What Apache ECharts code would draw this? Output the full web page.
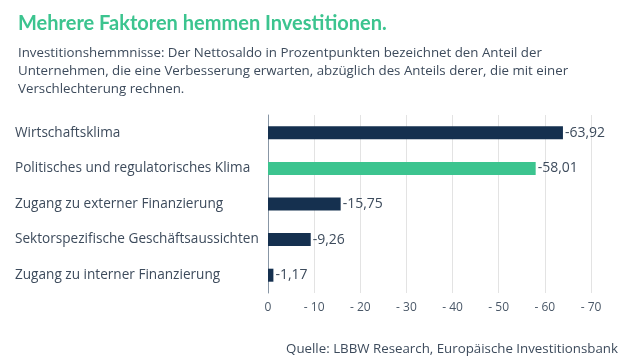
<!DOCTYPE html>
<html><head><meta charset="utf-8">
<script src="https://cdn.jsdelivr.net/npm/echarts@6/dist/echarts.min.js"></script>
<style>html,body{margin:0;padding:0;background:#fff}#c{width:640px;height:360px}</style>
</head><body><div id="c"></div>
<script>
const categories = ["Wirtschaftsklima","Politisches und regulatorisches Klima","Zugang zu externer Finanzierung","Sektorspezifische Geschäftsaussichten","Zugang zu interner Finanzierung"];
const values = [-63.92, -58.01, -15.75, -9.26, -1.17];
const highlight = [false, true, false, false, false];
const tickMin = -70, tickMax = 0, tickStep = 10;

const NAVY = '#15304f', GREEN = '#3cc48f', TXT = '#3d4b5c';
const FONT = '"Open Sans", sans-serif';
const chart = echarts.init(document.getElementById('c'), null, {renderer:'canvas'});
chart.setOption({
  animation:false,
  title:[{
    text:'Mehrere Faktoren hemmen Investitionen.',
    left:13, top:9,
    textStyle:{color:GREEN, fontSize:20, fontWeight:'bold', fontFamily:'Lato, sans-serif'}
  },{
    text:'Investitionshemmnisse: Der Nettosaldo in Prozentpunkten bezeichnet den Anteil der\nUnternehmen, die eine Verbesserung erwarten, abzüglich des Anteils derer, die mit einer\nVerschlechterung rechnen.',
    left:13, top:39,
    textStyle:{color:TXT, fontSize:13.3, fontWeight:'normal', fontFamily:FONT, lineHeight:18.2}
  },{
    text:'Quelle: LBBW Research, Europäische Investitionsbank',
    right:17, top:338,
    textStyle:{color:TXT, fontSize:13.3, fontWeight:'normal', fontFamily:FONT}
  }],
  grid:{left:268, right:49, top:115, height:178, containLabel:false},
  xAxis:{
    type:'value', inverse:true, min:tickMin, max:tickMax, interval:tickStep,
    axisLine:{show:false}, axisTick:{show:false},
    splitLine:{show:true, lineStyle:{color:'#e3e3e3', width:1}},
    axisLabel:{color:'#4a5868', fontSize:12, fontFamily:FONT, margin:9,
      formatter:v=> v===0 ? '0' : '- ' + Math.abs(v)}
  },
  yAxis:{
    type:'category', inverse:true, data:categories,
    axisLine:{show:true, lineStyle:{color:'#8896a5'}}, axisTick:{show:false},
    axisLabel:{color:TXT, fontSize:13.6, fontFamily:FONT, align:'left', margin:253}
  },
  series:[{
    type:'bar', barWidth:13,
    data: values.map((v,i)=>({value:v, itemStyle:{color: highlight[i]?GREEN:NAVY}})),
    label:{show:true, position:'right', distance:2, color:TXT, fontSize:14, fontFamily:FONT,
      formatter:p=> p.value.toFixed(2).replace('.', ',')}
  }]
});
</script></body></html>
